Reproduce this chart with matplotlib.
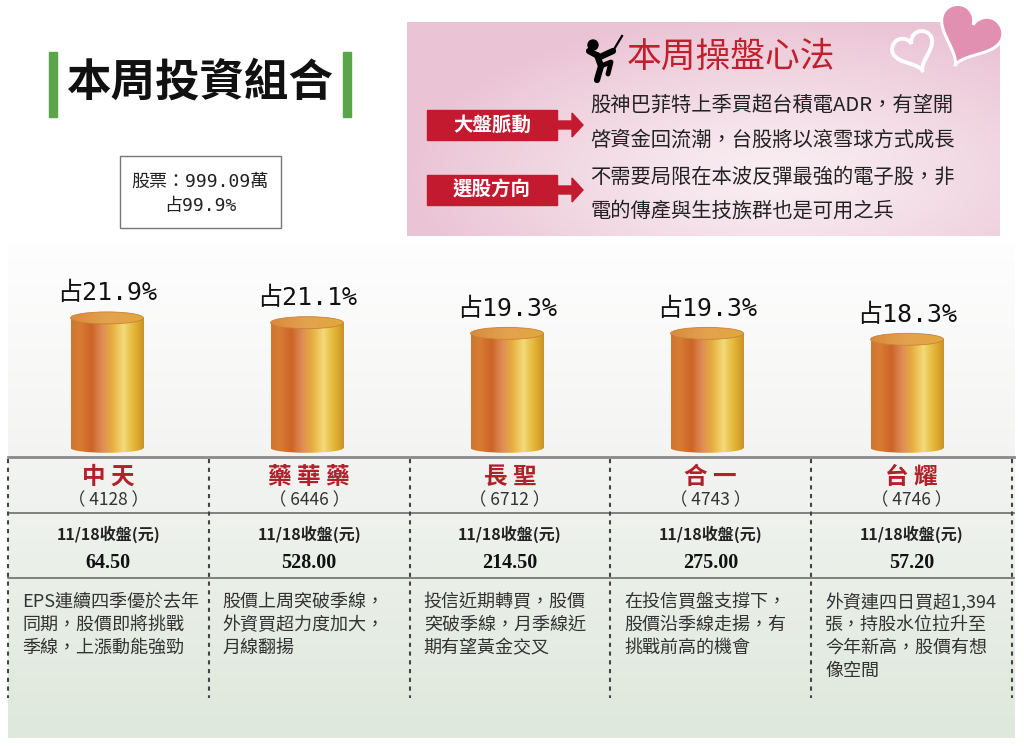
"""
本周投資組合 infographic: cylinder bars of portfolio weights plus a stock table.
"""
import numpy as np
import matplotlib
matplotlib.use("Agg")
import matplotlib.pyplot as plt
import matplotlib.colors as mcolors
from matplotlib.patches import Rectangle, Ellipse, Polygon, Circle

CJK  = ['Noto Sans CJK TC', 'DejaVu Sans']
MONO = ['DejaVu Sans Mono', 'Noto Sans CJK TC']
plt.rcParams['font.family'] = CJK

W, H = 1024, 746

# =============================================================================
# Data
# =============================================================================
names   = ['中天', '藥華藥', '長聖', '合一', '台耀']
codes   = ['4128', '6446', '6712', '4743', '4746']
weights = [21.9, 21.1, 19.3, 19.3, 18.3]
prices  = ['64.50', '528.00', '214.50', '275.00', '57.20']
price_label = '11/18收盤(元)'
descs = [
    ['EPS連續四季優於去年', '同期，股價即將挑戰', '季線，上漲動能強勁'],
    ['股價上周突破季線，', '外資買超力度加大，', '月線翻揚'],
    ['投信近期轉買，股價', '突破季線，月季線近', '期有望黃金交叉'],
    ['在投信買盤支撐下，', '股價沿季線走揚，有', '挑戰前高的機會'],
    ['外資連四日買超1,394', '張，持股水位拉升至', '今年新高，股價有想', '像空間'],
]

title       = '本周投資組合'
stock_total = '股票：999.09萬'
stock_share = '占99.9%'

tips_title  = '本周操盤心法'
tip_tags    = ['大盤脈動', '選股方向']
tip_lines   = [
    ['股神巴菲特上季買超台積電ADR，有望開', '啓資金回流潮，台股將以滾雪球方式成長'],
    ['不需要局限在本波反彈最強的電子股，非', '電的傳產與生技族群也是可用之兵'],
]

RED  = '#c41a30'
NAME_RED = '#b0222a'

# =============================================================================
# Figure / pixel canvas
# =============================================================================
fig = plt.figure(figsize=(W / 100, H / 100), dpi=100)
ax = fig.add_axes([0, 0, 1, 1])
ax.axis('off')

# --- lower panel gradient (white -> pale green) ---
ys = np.linspace(0, 1, 300)
top_c = np.array([0.995, 0.995, 0.995])
mid_c = np.array([0.955, 0.958, 0.952])
bot_c = np.array([0.872, 0.910, 0.862])
col = np.where(ys[:, None] < 0.42,
               top_c + (mid_c - top_c) * (ys[:, None] / 0.42),
               mid_c + (bot_c - mid_c) * ((ys[:, None] - 0.42) / 0.58))
ax.imshow(col[:, None, :], extent=(8, 1015, 738, 243), aspect='auto', zorder=0)

# --- pink tips panel ---
yy, xx = np.mgrid[0:1:110j, 0:1:300j]
d = np.sqrt(((xx - 0.62) / 0.62) ** 2 + ((yy - 0.72) / 0.75) ** 2)
t = np.clip(d, 0, 1) ** 1.1
pink  = np.array([0.920, 0.770, 0.835])
white = np.array([0.980, 0.940, 0.955])
pimg = white + (pink - white) * t[..., None]
ax.imshow(pimg, extent=(407, 1000, 236, 22), aspect='auto', zorder=0)

# --- hearts ---
def heart(cx, cy, s, ang):
    tt = np.linspace(0, 2 * np.pi, 200)
    x = 16 * np.sin(tt) ** 3
    y = 13 * np.cos(tt) - 5 * np.cos(2 * tt) - 2 * np.cos(3 * tt) - np.cos(4 * tt)
    a = np.deg2rad(ang)
    xr = x * np.cos(a) - y * np.sin(a)
    yr = x * np.sin(a) + y * np.cos(a)
    return np.column_stack([cx + s * xr, cy - s * yr])

ax.add_patch(Polygon(heart(914, 50, 1.3, 22), closed=True, facecolor='none',
                     edgecolor='white', lw=2.8, zorder=2))
ax.add_patch(Polygon(heart(969, 34, 2.0, -24), closed=True, facecolor='#e190b2',
                     edgecolor='white', lw=2.2, zorder=2))

# --- golfer icon ---
ax.add_patch(Circle((593, 45), 5, color='black', zorder=3))
ax.plot([589, 600, 613], [51, 57, 51], color='black', lw=4.5, solid_capstyle='round', zorder=3)
ax.plot([613, 622], [51, 36], color='black', lw=1.6, zorder=3)
ax.plot([597, 601, 597], [55, 66, 80], color='black', lw=4.5, solid_capstyle='round', zorder=3)
ax.plot([601, 611, 608], [66, 62, 74], color='black', lw=3.5, solid_capstyle='round', zorder=3)

ax.text(627, 57, tips_title, fontsize=25, color='#c0202e', ha='left', va='center', zorder=3)

# --- tags + arrows + tip text ---
tag_y = [125, 190]
line_y = [[105, 140], [177, 211]]
for ty, tag, lines, ly in zip(tag_y, tip_tags, tip_lines, line_y):
    ax.add_patch(Rectangle((427, ty - 15), 130, 30, color=RED, zorder=2))
    ax.text(492, ty, tag, fontsize=14, color='white', weight='bold',
            ha='center', va='center', zorder=3)
    ax.add_patch(Polygon([(557, ty - 4), (572, ty - 4), (572, ty - 12), (583, ty),
                          (572, ty + 12), (572, ty + 4), (557, ty + 4)],
                         closed=True, color=RED, zorder=2))
    for txt, yv in zip(lines, ly):
        ax.text(590, yv, txt, fontsize=14.6, color='#222222', ha='left',
                va='center', zorder=3)

# --- title ---
ax.add_patch(Rectangle((49, 52), 8, 65, color='#5aa54a', zorder=2))
ax.add_patch(Rectangle((343, 52), 8, 65, color='#5aa54a', zorder=2))
ax.text(200, 83, title, fontsize=32, weight='heavy', color='#111111',
        ha='center', va='center', zorder=3)

ax.add_patch(Rectangle((120, 156), 161, 72, facecolor='white', edgecolor='#777777',
                       lw=1.0, zorder=2))
ax.text(200, 182, stock_total, fontsize=13, family=MONO, color='#222222',
        ha='center', va='center', zorder=3)
ax.text(200, 206, stock_share, fontsize=13, family=MONO, color='#222222',
        ha='center', va='center', zorder=3)

# --- table ---
col_edges = [8 + 200.8 * i for i in range(6)]
for yv, c, lw in [(457, '#8a8a8a', 2.0), (513, '#777777', 1.3), (578, '#777777', 1.3)]:
    ax.plot([8, 1014], [yv, yv], color=c, lw=lw, zorder=2)
for xe in col_edges:
    ax.plot([xe, xe], [459, 698], color='#444444', lw=1.5,
            linestyle=(0, (2, 2.2)), zorder=2)

for i in range(len(names)):
    cx = (col_edges[i] + col_edges[i + 1]) / 2
    ax.text(cx, 477, ' '.join(names[i]), fontsize=17, weight='bold', color=NAME_RED,
            ha='center', va='center', zorder=3)
    ax.text(cx, 500, '（ ' + codes[i] + ' ）', fontsize=12.5, color='#333333',
            ha='center', va='center', zorder=3)
    ax.text(cx, 534, price_label, fontsize=11.5, weight='bold', color='#222222',
            ha='center', va='center', zorder=3)
    ax.text(cx, 563, prices[i], fontsize=14.5, weight='bold', family='Liberation Serif',
            color='#111111', ha='center', va='center', zorder=3)
    for k, line in enumerate(descs[i]):
        ax.text(col_edges[i] + 14, 602 + 23 * k, line, fontsize=13, color='#333333',
                ha='left', va='center', zorder=3)

ax.set_xlim(0, W)
ax.set_ylim(H, 0)

# =============================================================================
# Cylinder bars (data axes)
# =============================================================================
px_per_pct = 5.94
pad_px = 10   # room below zero for the rounded cylinder base
axb = fig.add_axes([7 / W, (H - 448 - pad_px) / H, 1000 / W, (200 + pad_px) / H])
axb.axis('off')

cyl = mcolors.LinearSegmentedColormap.from_list('cyl', [
    (0.00, '#cf7530'), (0.12, '#d87c34'), (0.28, '#cc6428'), (0.44, '#de9058'),
    (0.56, '#e6ad3c'), (0.72, '#f3da78'), (0.88, '#e2b232'), (1.00, '#c9922a')])
cyl_top = mcolors.LinearSegmentedColormap.from_list('cyl_top', [
    (0.0, '#d98a3e'), (0.5, '#e4a24e'), (1.0, '#e0a83e')])

bw = 0.365
eh = 12 / px_per_pct
grad = np.linspace(0, 1, 256)[None, :]
xs = np.arange(len(weights))
bars = axb.bar(xs, weights, width=bw, color='none', edgecolor='none')
for x, v, bar in zip(xs, weights, bars):
    im = axb.imshow(grad, cmap=cyl, extent=(x - bw / 2, x + bw / 2, -eh, v),
                    aspect='auto', zorder=2)
    im.set_clip_path(bar)
    bot = Ellipse((x, 0), bw, eh * 0.8, facecolor='none', edgecolor='none')
    axb.add_patch(bot)
    im2 = axb.imshow(grad, cmap=cyl, extent=(x - bw / 2, x + bw / 2, -eh, v),
                     aspect='auto', zorder=2)
    im2.set_clip_path(bot)
    top = Ellipse((x, v), bw, eh, facecolor='none', edgecolor='#c98236', lw=0.6, zorder=4)
    axb.add_patch(top)
    im3 = axb.imshow(grad, cmap=cyl_top, extent=(x - bw / 2, x + bw / 2, v - eh, v + eh),
                     aspect='auto', zorder=3)
    im3.set_clip_path(top)
    axb.text(x, v + eh / 2 + 1.1, f'占{v}%', fontsize=18, family=MONO, color='#111111',
             ha='center', va='bottom', zorder=5)

axb.set_xlim(-0.5, 4.5)
axb.set_ylim(-pad_px / px_per_pct, 200 / px_per_pct)

fig.savefig('out.png', dpi=100)
